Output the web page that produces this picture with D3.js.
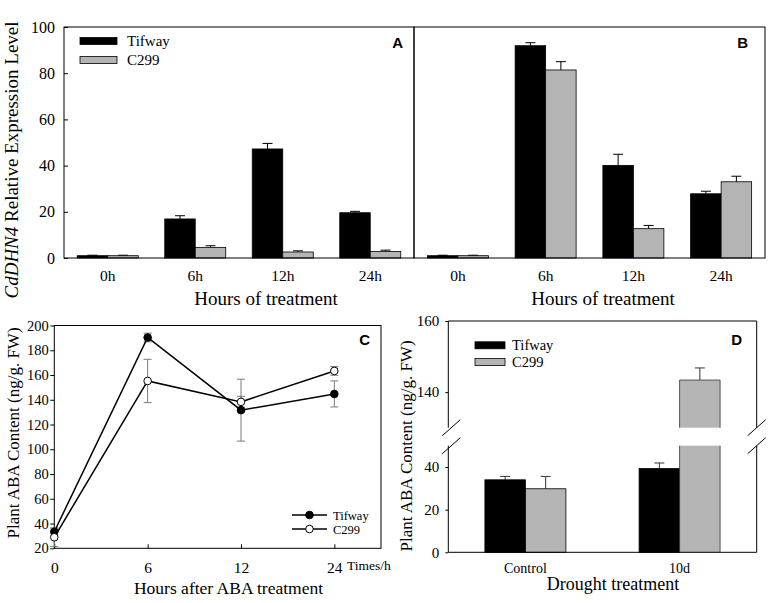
<!DOCTYPE html>
<html>
<head>
<meta charset="utf-8">
<script src="https://cdnjs.cloudflare.com/ajax/libs/d3/7.8.5/d3.min.js"></script>
<style>
  body { margin: 0; background: #fff; }
</style>
</head>
<body>
<script>
/* Données */
const hours = ["0h", "6h", "12h", "24h"];
const series = ["Tifway", "C299"];

// A : expression relative CdDHN4
const exprA_tifway = [1.0, 16.9, 47.2, 19.6];
const exprA_tifwayErr = [0.2, 1.4, 2.4, 0.6];
const exprA_c299 = [1.0, 4.6, 2.6, 2.8];
const exprA_c299Err = [0.2, 0.7, 0.5, 0.6];

// B
const exprB_tifway = [1.0, 91.9, 40.1, 27.8];
const exprB_tifwayErr = [0.2, 1.3, 4.8, 1.1];
const exprB_c299 = [1.0, 81.4, 12.7, 33.0];
const exprB_c299Err = [0.2, 3.6, 1.4, 2.4];

// C : ABA après traitement
const abaTimes = ["0", "6", "12", "24"];
const abaC_tifway = [33.4, 190.3, 131.6, 144.7];
const abaC_tifwayErr = [3.0, 3.5, 25.0, 10.5];
const abaC_c299 = [28.9, 155.2, 138.3, 163.3];
const abaC_c299Err = [7.5, 17.5, 4.5, 3.5];

// D : sécheresse
const droughtGroups = ["Control", "10d"];
const abaD_tifway = [34.0, 39.3];
const abaD_tifwayErr = [1.6, 2.6];
const abaD_c299 = [29.8, 143.4];
const abaD_c299Err = [5.8, 3.4];

const exprTicks = [0, 20, 40, 60, 80, 100];
const abaCTicks = [20, 40, 60, 80, 100, 120, 140, 160, 180, 200];
const abaDLowTicks = [0, 20, 40];
const abaDHighTicks = [140, 160];

/* Styles */
const serif = "'Liberation Serif','Times New Roman',serif";
const sans = "'Liberation Sans',Arial,sans-serif";
const barFill = { Tifway: "#000000", C299: "#b4b4b4" };

const svg = d3.select("body").append("svg")
  .attr("width", 773)
  .attr("height", 603);

function styleAxis(g, size) {
  g.select(".domain").remove();
  g.selectAll("text")
    .style("font-family", serif)
    .style("font-size", size + "px")
    .attr("fill", "#000");
  g.selectAll("line").attr("stroke", "#000");
}

function frame(x0, y0, x1, y1) {
  svg.append("rect")
    .attr("x", x0).attr("y", y0)
    .attr("width", x1 - x0).attr("height", y1 - y0)
    .attr("fill", "none").attr("stroke", "#000").attr("stroke-width", 1);
}

function addText(x, y, txt, size, opts) {
  opts = opts || {};
  return svg.append("text")
    .attr("x", x).attr("y", y)
    .attr("text-anchor", opts.anchor || "middle")
    .style("font-family", opts.font || serif)
    .style("font-size", size + "px")
    .style("font-weight", opts.weight || "normal")
    .text(txt);
}

function barLegend(x, y0, y1, size) {
  series.forEach(function (s, i) {
    const cy = i === 0 ? y0 : y1;
    svg.append("rect")
      .attr("x", x).attr("y", cy - 3.5)
      .attr("width", x === 80 ? 37 : 30).attr("height", 7)
      .attr("fill", barFill[s]).attr("stroke", "#000").attr("stroke-width", 0.8);
    addText(x + (x === 80 ? 47 : 37), cy + 5, s, size, { anchor: "start" });
  });
}

/**
 * Panneaux A et B
**/
const yExpr = d3.scaleLinear().domain([0, 100]).range([258, 27]);

function exprPanel(left, right, tif, tifErr, c299, c299Err) {
  const x = d3.scaleBand().domain(hours).range([left, right]);
  const half = 30.5;
  const xs = d3.scaleBand().domain(series)
    .range([x.bandwidth() / 2 - half, x.bandwidth() / 2 + half]);
  const rows = [];
  hours.forEach(function (h, i) {
    rows.push({ h: h, s: "Tifway", v: tif[i], e: tifErr[i] });
    rows.push({ h: h, s: "C299", v: c299[i], e: c299Err[i] });
  });
  const g = svg.append("g");
  const cx = function (d) { return x(d.h) + xs(d.s) + xs.bandwidth() / 2; };

  g.selectAll("line.err").data(rows).enter().append("line")
    .attr("x1", cx).attr("x2", cx)
    .attr("y1", function (d) { return yExpr(d.v); })
    .attr("y2", function (d) { return yExpr(d.v + d.e); })
    .attr("stroke", "#000").attr("stroke-width", 1);
  g.selectAll("line.cap").data(rows).enter().append("line")
    .attr("x1", function (d) { return cx(d) - 5; })
    .attr("x2", function (d) { return cx(d) + 5; })
    .attr("y1", function (d) { return yExpr(d.v + d.e); })
    .attr("y2", function (d) { return yExpr(d.v + d.e); })
    .attr("stroke", "#000").attr("stroke-width", 1);
  g.selectAll("rect").data(rows).enter().append("rect")
    .attr("x", function (d) { return x(d.h) + xs(d.s); })
    .attr("y", function (d) { return yExpr(d.v); })
    .attr("width", xs.bandwidth())
    .attr("height", function (d) { return yExpr(0) - yExpr(d.v); })
    .attr("fill", function (d) { return barFill[d.s]; })
    .attr("stroke", "#000").attr("stroke-width", 0.8);

  svg.append("g")
    .attr("transform", "translate(0," + yExpr(0) + ")")
    .call(d3.axisBottom(x).tickSize(0).tickPadding(12))
    .call(styleAxis, 15.5);
}

exprPanel(64, 414, exprA_tifway, exprA_tifwayErr, exprA_c299, exprA_c299Err);
exprPanel(414, 765, exprB_tifway, exprB_tifwayErr, exprB_c299, exprB_c299Err);

svg.append("g")
  .attr("transform", "translate(64,0)")
  .call(d3.axisLeft(yExpr).tickValues(exprTicks).tickSizeInner(-4).tickSizeOuter(0).tickPadding(9))
  .call(styleAxis, 16);

frame(64, 27, 414, 258);
frame(414, 27, 765, 258);

barLegend(80, 41, 60, 15);
addText(403, 48, "A", 15, { anchor: "end", font: sans, weight: "bold" });
addText(748, 48, "B", 15, { anchor: "end", font: sans, weight: "bold" });

addText(266, 304.5, "Hours of treatment", 19);
addText(603, 304.5, "Hours of treatment", 19);

const titleA = svg.append("text")
  .attr("transform", "translate(17.5,160) rotate(-90)")
  .attr("text-anchor", "middle")
  .style("font-family", serif)
  .style("font-size", "19px");
titleA.append("tspan").style("font-style", "italic").text("CdDHN4");
titleA.append("tspan").text(" Relative Expression Level");

/**
 * Panneau C
**/
const xC = d3.scaleLinear().domain([0, 3.5]).range([54.3, 381]);
const yC = d3.scaleLinear().domain([20, 200]).range([548.3, 325.5]);

svg.append("g")
  .attr("transform", "translate(0," + yC(20) + ")")
  .call(d3.axisBottom(xC).tickValues([0, 1, 2, 3])
    .tickFormat(function (i) { return abaTimes[i]; })
    .tickSizeInner(-4).tickSizeOuter(0).tickPadding(13.5))
  .call(styleAxis, 15.5);

svg.append("g")
  .attr("transform", "translate(" + xC(0) + ",0)")
  .call(d3.axisLeft(yC).tickValues(abaCTicks).tickSizeInner(4).tickSizeOuter(0).tickPadding(1.5))
  .call(styleAxis, 14.5);

frame(54.3, 325.5, 381, 548.3);

const cSeries = [
  { s: "Tifway", v: abaC_tifway, e: abaC_tifwayErr, fill: "#000" },
  { s: "C299", v: abaC_c299, e: abaC_c299Err, fill: "#fff" }
];
const line = d3.line()
  .x(function (d, i) { return xC(i); })
  .y(function (d) { return yC(d); });

cSeries.forEach(function (ser) {
  const g = svg.append("g");
  const pts = ser.v.map(function (v, i) { return { i: i, v: v, e: ser.e[i] }; });
  g.selectAll("line.err").data(pts).enter().append("line")
    .attr("x1", function (d) { return xC(d.i); })
    .attr("x2", function (d) { return xC(d.i); })
    .attr("y1", function (d) { return yC(Math.max(20, d.v - d.e)); })
    .attr("y2", function (d) { return yC(d.v + d.e); })
    .attr("stroke", "#7a7a7a").attr("stroke-width", 1);
  [-1, 1].forEach(function (sgn) {
    g.selectAll("line.cap" + sgn).data(pts).enter().append("line")
      .attr("x1", function (d) { return xC(d.i) - 4; })
      .attr("x2", function (d) { return xC(d.i) + 4; })
      .attr("y1", function (d) { return yC(d.v + sgn * d.e); })
      .attr("y2", function (d) { return yC(d.v + sgn * d.e); })
      .attr("stroke", "#7a7a7a").attr("stroke-width", 1);
  });
});
cSeries.forEach(function (ser) {
  svg.append("path")
    .attr("d", line(ser.v))
    .attr("fill", "none").attr("stroke", "#000").attr("stroke-width", 1.5);
});
cSeries.forEach(function (ser) {
  svg.append("g").selectAll("circle").data(ser.v).enter().append("circle")
    .attr("cx", function (d, i) { return xC(i); })
    .attr("cy", function (d) { return yC(d); })
    .attr("r", 3.8)
    .attr("fill", ser.fill).attr("stroke", "#000").attr("stroke-width", 1);
});

// légende C
cSeries.forEach(function (ser, i) {
  const cy = 515 + i * 14;
  svg.append("line").attr("x1", 292).attr("x2", 327).attr("y1", cy).attr("y2", cy)
    .attr("stroke", "#000").attr("stroke-width", 1.5);
  svg.append("circle").attr("cx", 309.5).attr("cy", cy).attr("r", 3.8)
    .attr("fill", ser.fill).attr("stroke", "#000");
  addText(333, cy + 4.5, ser.s, 12.5, { anchor: "start" });
});

addText(370, 344.5, "C", 15, { anchor: "end", font: sans, weight: "bold" });
addText(347, 570, "Times/h", 13.5, { anchor: "start" });
addText(228.5, 594, "Hours after ABA treatment", 17.5);

svg.append("text")
  .attr("transform", "translate(19,433) rotate(-90)")
  .attr("text-anchor", "middle")
  .style("font-family", serif)
  .style("font-size", "17px")
  .text("Plant ABA Content (ng/g. FW)");

/**
 * Panneau D (axe interrompu)
**/
const dLeft = 448.3, dRight = 756.7, dTop = 321, dBottom = 552.3;
const yLow = d3.scaleLinear().domain([0, 50]).range([dBottom, 445.7]);
const yHigh = d3.scaleLinear().domain([130, 160]).range([427.7, dTop]);
const xD = d3.scaleBand().domain(droughtGroups).range([dLeft, dRight]);
const halfD = 40.5;
const xDs = d3.scaleBand().domain(series)
  .range([xD.bandwidth() / 2 - halfD, xD.bandwidth() / 2 + halfD]);

const dRows = [];
droughtGroups.forEach(function (grp, i) {
  dRows.push({ g: grp, s: "Tifway", v: abaD_tifway[i], e: abaD_tifwayErr[i] });
  dRows.push({ g: grp, s: "C299", v: abaD_c299[i], e: abaD_c299Err[i] });
});
const yD = function (v) { return v > 50 ? yHigh(v) : yLow(v); };
const dx = function (d) { return xD(d.g) + xDs(d.s); };
const dcx = function (d) { return dx(d) + xDs.bandwidth() / 2; };

const gD = svg.append("g");
gD.selectAll("line.err").data(dRows).enter().append("line")
  .attr("x1", dcx).attr("x2", dcx)
  .attr("y1", function (d) { return yD(d.v); })
  .attr("y2", function (d) { return yD(d.v + d.e); })
  .attr("stroke", "#333").attr("stroke-width", 1);
gD.selectAll("line.cap").data(dRows).enter().append("line")
  .attr("x1", function (d) { return dcx(d) - 5; })
  .attr("x2", function (d) { return dcx(d) + 5; })
  .attr("y1", function (d) { return yD(d.v + d.e); })
  .attr("y2", function (d) { return yD(d.v + d.e); })
  .attr("stroke", "#333").attr("stroke-width", 1);

// partie basse des barres
gD.selectAll("rect.low").data(dRows).enter().append("rect")
  .attr("x", dx)
  .attr("y", function (d) { return yLow(Math.min(d.v, 50)); })
  .attr("width", xDs.bandwidth())
  .attr("height", function (d) { return yLow(0) - yLow(Math.min(d.v, 50)); })
  .attr("fill", function (d) { return barFill[d.s]; })
  .attr("stroke", function (d) { return d.v > 50 ? "none" : "#000"; })
  .attr("stroke-width", 0.8);
// partie haute (au-dessus de la coupure)
const broken = dRows.filter(function (d) { return d.v > 130; });
gD.selectAll("rect.high").data(broken).enter().append("rect")
  .attr("x", dx)
  .attr("y", function (d) { return yHigh(d.v); })
  .attr("width", xDs.bandwidth())
  .attr("height", function (d) { return yHigh(130) - yHigh(d.v); })
  .attr("fill", function (d) { return barFill[d.s]; });
broken.forEach(function (d) {
  const x0 = dx(d), x1 = dx(d) + xDs.bandwidth();
  gD.append("path")
    .attr("d", "M" + x0 + "," + yLow(50) + "V" + yLow(0) + "M" + x1 + "," + yLow(50) + "V" + yLow(0) +
      "M" + x0 + "," + yHigh(130) + "V" + yHigh(d.v) + "H" + x1 + "V" + yHigh(130))
    .attr("fill", "none").attr("stroke", "#333").attr("stroke-width", 0.8);
});

svg.append("g")
  .attr("transform", "translate(0," + dBottom + ")")
  .call(d3.axisBottom(xD).tickSize(0).tickPadding(10.5))
  .call(styleAxis, 14);
svg.append("g")
  .attr("transform", "translate(" + dLeft + ",0)")
  .call(d3.axisLeft(yLow).tickValues(abaDLowTicks).tickSizeInner(3).tickSizeOuter(0).tickPadding(6))
  .call(styleAxis, 15);
svg.append("g")
  .attr("transform", "translate(" + dLeft + ",0)")
  .call(d3.axisLeft(yHigh).tickValues(abaDHighTicks).tickSizeInner(3).tickSizeOuter(0).tickPadding(6))
  .call(styleAxis, 15);

// cadre D avec coupures
const breakHi = yHigh(130), breakLo = yLow(50);
svg.append("path")
  .attr("d",
    "M" + dLeft + "," + breakHi + "V" + dTop + "H" + dRight + "V" + breakHi +
    "M" + dLeft + "," + breakLo + "V" + dBottom + "H" + dRight + "V" + breakLo)
  .attr("fill", "none").attr("stroke", "#000").attr("stroke-width", 1);
[dLeft + 3, dRight].forEach(function (x) {
  [breakHi, breakLo].forEach(function (y) {
    svg.append("line")
      .attr("x1", x - 9).attr("y1", y + 8)
      .attr("x2", x + 9).attr("y2", y - 8)
      .attr("stroke", "#000").attr("stroke-width", 1);
  });
});

barLegend(475, 345.3, 362, 14.5);
addText(742, 345, "D", 15, { anchor: "end", font: sans, weight: "bold" });
addText(613, 590, "Drought treatment", 18);

svg.append("text")
  .attr("transform", "translate(411.5,446) rotate(-90)")
  .attr("text-anchor", "middle")
  .style("font-family", serif)
  .style("font-size", "17px")
  .text("Plant ABA Content (ng/g. FW)");
</script>
</body>
</html>
